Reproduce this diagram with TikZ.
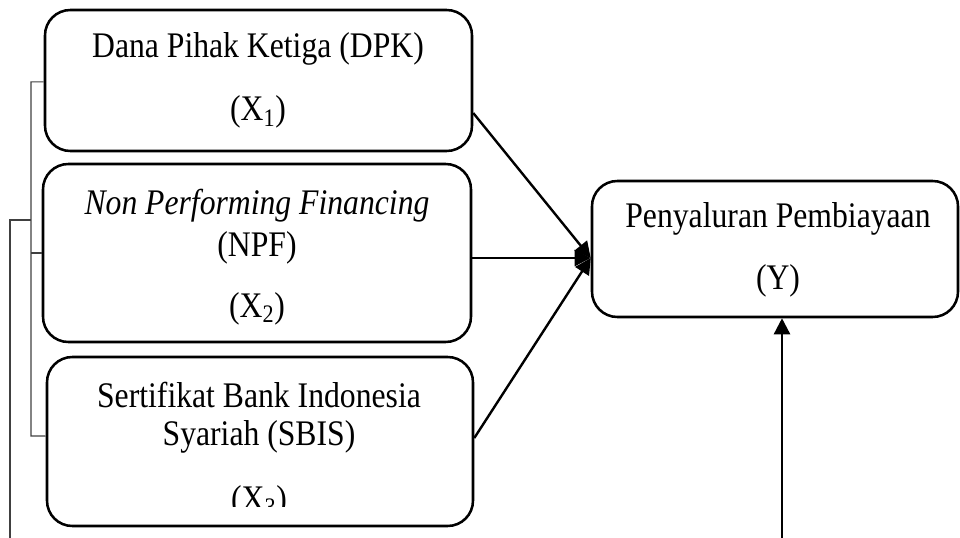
\documentclass[tikz,border=0pt]{standalone}
\usepackage{fontspec}
\setmainfont{Liberation Serif}[FakeStretch=0.88]
\usetikzlibrary{arrows.meta}
\begin{document}
\begin{tikzpicture}[x=0.75pt,y=-0.75pt,
  box/.style={draw, line width=1.9pt, rounded corners=19pt, inner sep=0pt},
  lbl/.style={font=\fontsize{27}{31}\selectfont, inner sep=0pt, anchor=base},
  conn/.style={line width=1.8pt, -{Triangle[length=12pt,width=12pt]}},
  brk/.style={line width=0.8pt, draw=black!75}]
\useasboundingbox (0,0) rectangle (960,538);

% boxes
\node[box, minimum width=320.25pt, minimum height=105.75pt] (b1) at (258.5,80.5) {};
\node[box, minimum width=321pt, minimum height=133.5pt] (b2) at (257,253) {};
\node[box, minimum width=319.5pt, minimum height=126.75pt] (b3) at (260,441.5) {};
\node[box, minimum width=274.5pt, minimum height=102pt] (yb) at (775,249) {};

% labels
\node[lbl] (t11) at (258,58) {Dana Pihak Ketiga (DPK)};
\node[lbl] (t12) at (258,121) {(X\textsubscript{1})};
\node[lbl] (t21) at (257,215) {\itshape Non Performing Financing};
\node[lbl] (t22) at (257,257) {(NPF)};
\node[lbl] (t23) at (257,317) {(X\textsubscript{2})};
\node[lbl] (t31) at (259,407) {Sertifikat Bank Indonesia};
\node[lbl] (t32) at (259,445) {Syariah (SBIS)};
\begin{scope}
  \clip (0,0) rectangle (960,506);
  \node[lbl] (t33) at (259,510) {(X\textsubscript{3})};
\end{scope}
\node[lbl] (ty1) at (778,228) {Penyaluran Pembiayaan};
\node[lbl] (ty2) at (778,290) {(Y)};

% arrows into Y
\draw[conn] ([yshift=-24.4pt]b1.east) -- ([yshift=-6.75pt]yb.west);
\draw[conn] ([yshift=-3.75pt]b2.east) -- ([yshift=-6.75pt]yb.west);
\draw[conn] ([yshift=2.6pt]b3.east) -- ([yshift=-6.75pt]yb.west);
\coordinate (vb) at (782,538);
\draw[conn] (vb) -- ([xshift=5.25pt]yb.south);

% bracket on the left
\draw[brk] ([yshift=-1.1pt]b1.west) -| (31,436) -- ([yshift=4.1pt]b3.west);
\draw[brk] (b2.west) -- (31,253);
\coordinate (bj) at (31,220);
\coordinate (be) at (10,538);
\draw[brk] (bj) -| (be);
\end{tikzpicture}
\end{document}
